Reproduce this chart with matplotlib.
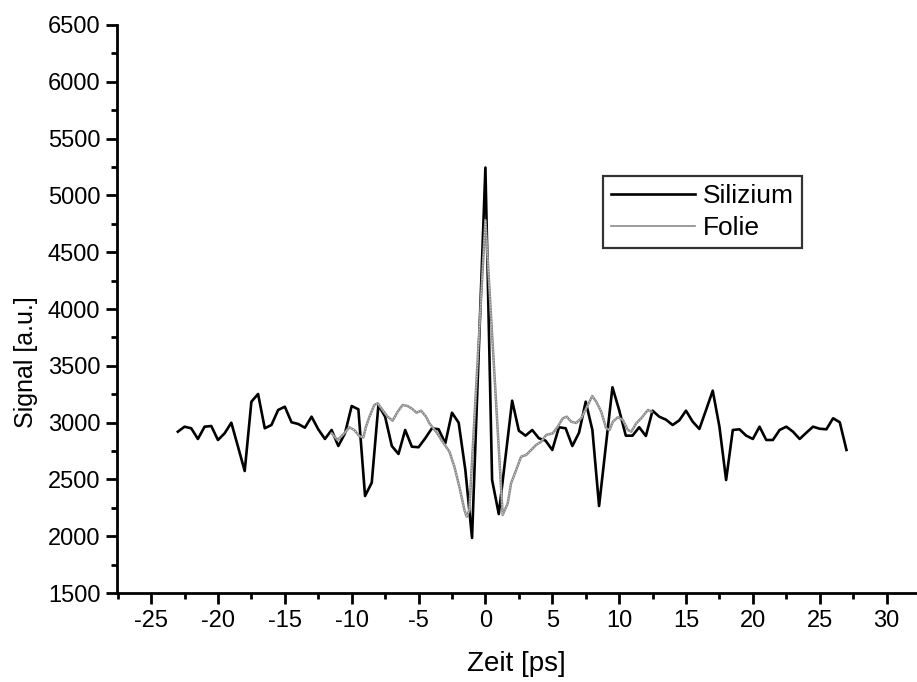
import numpy as np
import matplotlib
matplotlib.use("Agg")
import matplotlib.pyplot as plt
from matplotlib.ticker import MultipleLocator

plt.rcParams['font.family'] = ['Liberation Sans', 'DejaVu Sans']
plt.rcParams['axes.unicode_minus'] = False

# Silizium: one sample every 0.5 ps from -23 to 27 ps
si_time = np.arange(-23.0, 27.01, 0.5)
si_signal = [2920, 2964, 2950, 2856, 2964, 2970, 2847, 2906, 2999, 2787,
             2574, 3184, 3252, 2950, 2979, 3111, 3140, 3003, 2988, 2955,
             3052, 2941, 2856, 2935, 2794, 2906, 3146, 3117, 2354, 2471,
             3155, 3052, 2794, 2724, 2935, 2788, 2783, 2862, 2950, 2941,
             2818, 3087, 2999, 2583, 1985, 3620, 5245, 2495, 2195, 2694,
             3193, 2929, 2885, 2935, 2862, 2841, 2759, 2959, 2950, 2794,
             2911, 3184, 2935, 2266, 2788, 3311, 3111, 2885, 2885, 2959,
             2882, 3105, 3052, 3026, 2979, 3020, 3105, 3008, 2944, 3111,
             3281, 2964, 2495, 2935, 2941, 2885, 2856, 2964, 2847, 2847,
             2935, 2964, 2920, 2856, 2911, 2964, 2946, 2941, 3038, 3003,
             2759]

# Folie
fo_time = [-11.50, -11.06, -10.80, -10.55, -10.18, -9.81, -9.43, -9.13, -8.93, -8.68,
           -8.31, -8.06, -7.69, -7.31, -6.94, -6.56, -6.19, -5.82, -5.46, -5.16,
           -4.81, -4.44, -4.19, -3.69, -3.20, -2.69, -2.32, -1.95, -1.57, -1.40,
           -1.20, 0.00, 1.29, 1.67, 1.92, 2.30, 2.67, 3.05, 3.42, 3.79,
           4.17, 4.54, 5.04, 5.41, 5.79, 6.09, 6.41, 6.79, 7.16, 7.54,
           7.99, 8.29, 8.66, 9.03, 9.28, 9.53, 9.90, 10.28, 10.65, 10.91,
           11.28, 11.65, 12.15, 12.43]
fo_signal = [2906, 2847, 2876, 2906, 2959, 2935, 2882, 2869, 2964, 3049,
             3155, 3170, 3111, 3052, 3017, 3096, 3155, 3146, 3120, 3087,
             3105, 3052, 2994, 2920, 2832, 2744, 2612, 2436, 2231, 2172,
             2231, 4783, 2187, 2290, 2466, 2583, 2700, 2715, 2759, 2803,
             2832, 2891, 2906, 2964, 3038, 3052, 3008, 2997, 3038, 3126,
             3234, 3184, 3096, 2950, 2935, 3008, 3047, 3023, 2935, 2920,
             2994, 3038, 3111, 3096]

fig = plt.figure(figsize=(9.17, 6.82), dpi=100)
ax = fig.add_axes([117 / 917, 89 / 682, 799 / 917, 568 / 682])

ax.plot(si_time, si_signal, color='black', lw=1.9, label='Silizium')
ax.plot(fo_time, fo_signal, color='#8a8a8a', lw=1.8, label='Folie')
# light dotted overlay to imitate the halftone grey line
ax.plot(fo_time, fo_signal, color='#d0d0d0', lw=0.8, dashes=(1, 1.5))

ax.set_xlim(-27.55, 32.2)
ax.set_ylim(1500, 6500)
ax.xaxis.set_major_locator(MultipleLocator(5))
ax.xaxis.set_minor_locator(MultipleLocator(2.5))
ax.yaxis.set_major_locator(MultipleLocator(500))
ax.yaxis.set_minor_locator(MultipleLocator(250))

for s in ['top', 'right']:
    ax.spines[s].set_visible(False)
for s in ['left', 'bottom']:
    ax.spines[s].set_linewidth(2.0)

ax.tick_params(which='major', direction='out', length=8, width=2, labelsize=17, pad=4)
ax.tick_params(which='minor', direction='out', length=4.5, width=2)

ax.set_xlabel('Zeit [ps]', fontsize=20, labelpad=14)
ax.set_ylabel('Signal [a.u.]', fontsize=18)
ax.yaxis.set_label_coords(-0.099, 0.407)

leg = ax.legend(loc='upper left', bbox_to_anchor=(603 / 917, 1 - 176 / 682),
                bbox_transform=fig.transFigure, fontsize=19, frameon=True,
                fancybox=False, handlelength=3.2, handletextpad=0.3,
                borderpad=0.3, labelspacing=0.3, borderaxespad=0)
leg.get_frame().set_edgecolor('black')
leg.get_frame().set_linewidth(1.6)
leg.legend_handles[1].set_linewidth(1.2)

fig.savefig('out.png', dpi=100)
